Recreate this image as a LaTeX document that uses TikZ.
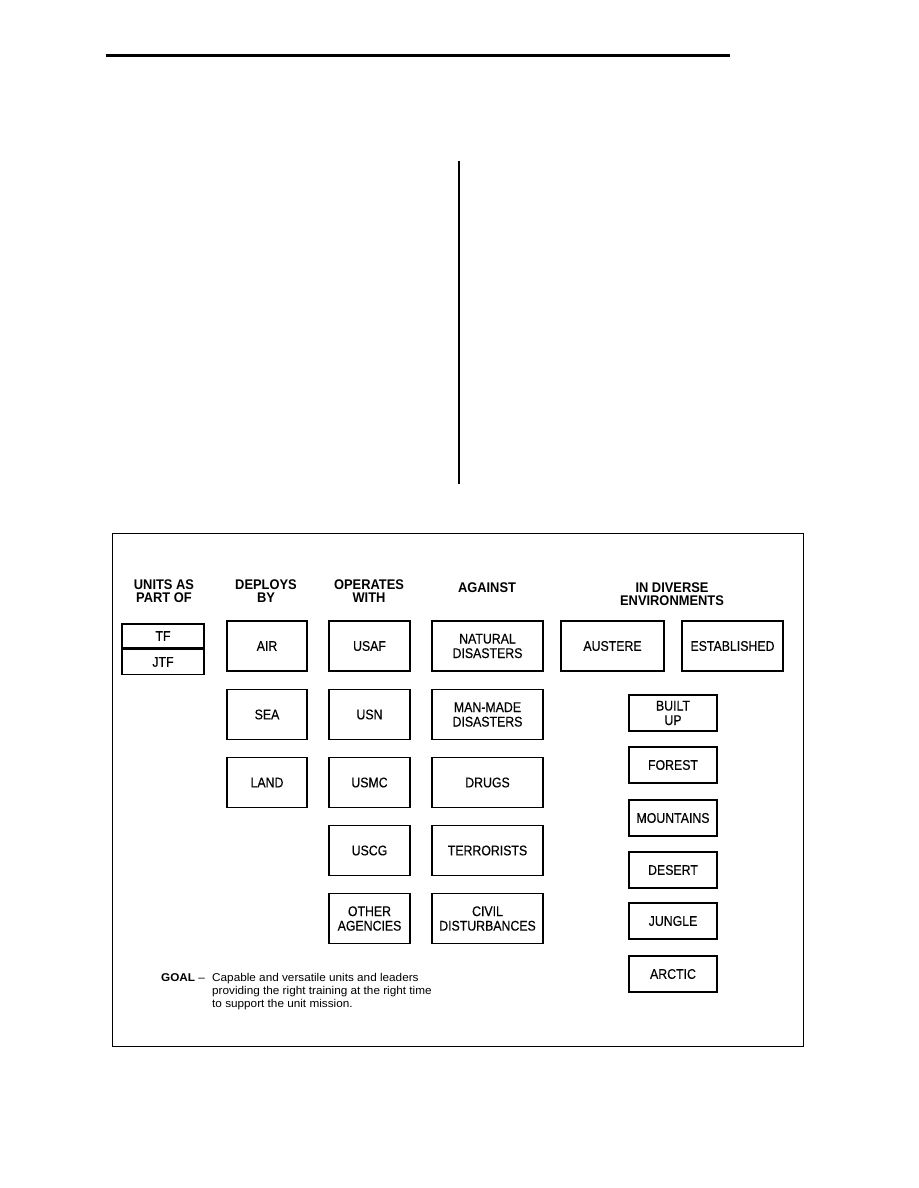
\documentclass[tikz,border=0pt]{standalone}
\usepackage{fontspec}
\setmainfont{Liberation Sans}
\newfontfamily\boxfont[FakeStretch=0.88,FakeBold=0.4]{Liberation Sans}
\newfontfamily\hdrfont[FakeStretch=0.92]{Liberation Sans}
\newfontfamily\goalfont[FakeStretch=1.04]{Liberation Sans}
\begin{document}
\begin{tikzpicture}[x=1pt,y=-1pt,
  box/.style={draw, line width=1.5pt, inner sep=0pt, align=center,
    font=\boxfont\fontsize{14}{14.5}\selectfont},
  hdr/.style={inner sep=0pt, align=center, font=\hdrfont\bfseries\fontsize{14}{13}\selectfont},
  goaltext/.style={inner sep=0pt, anchor=base west, font=\goalfont\fontsize{11.3}{13}\selectfont}]
\useasboundingbox (0,0) rectangle (918,1188);
% top rule and vertical rule
\coordinate (rl) at (106,56); \coordinate (rr) at (730,56);
\draw[line width=3pt] (rl) -- (rr);
\coordinate (vt) at (459,161); \coordinate (vb) at (459,484);
\draw[line width=2pt] (vt) -- (vb);
% frame
\node[draw, line width=1.3pt, minimum width=691pt, minimum height=513pt, inner sep=0pt, anchor=north west] (frame) at (112,533) {};
% headers
\node[hdr] (h1) at (164,591) {UNITS AS\\PART OF};
\node[hdr] (h2) at (266,591) {DEPLOYS\\BY};
\node[hdr] (h3) at (369,591) {OPERATES\\WITH};
\node[hdr] (h4) at (487,588) {AGAINST};
\node[hdr] (h5) at (672,594) {IN DIVERSE\\ENVIRONMENTS};
% units
\node[box, minimum width=82pt, minimum height=24pt] (tf) at (163,636) {TF};
\node[box, minimum width=82pt, minimum height=25pt, anchor=north] (jtf) at (tf.south) {JTF};
% deploys
\node[box, minimum width=80pt, minimum height=50pt] (air) at (267,646) {AIR};
\node[box, minimum width=80pt, minimum height=50pt] (sea) at (267,714.5) {SEA};
\node[box, minimum width=80pt, minimum height=50pt] (land) at (267,782.5) {LAND};
% operates
\node[box, minimum width=81pt, minimum height=50pt] (usaf) at (369.5,646) {USAF};
\node[box, minimum width=81pt, minimum height=50pt] (usn) at (369.5,714.5) {USN};
\node[box, minimum width=81pt, minimum height=50pt] (usmc) at (369.5,782.5) {USMC};
\node[box, minimum width=81pt, minimum height=50pt] (uscg) at (369.5,850.5) {USCG};
\node[box, minimum width=81pt, minimum height=50pt] (other) at (369.5,918.5) {OTHER\\AGENCIES};
% against
\node[box, minimum width=111pt, minimum height=50pt] (nat) at (487.5,646) {NATURAL\\DISASTERS};
\node[box, minimum width=111pt, minimum height=50pt] (man) at (487.5,714.5) {MAN-MADE\\DISASTERS};
\node[box, minimum width=111pt, minimum height=50pt] (drugs) at (487.5,782.5) {DRUGS};
\node[box, minimum width=111pt, minimum height=50pt] (terr) at (487.5,850.5) {TERRORISTS};
\node[box, minimum width=111pt, minimum height=50pt] (civil) at (487.5,918.5) {CIVIL\\DISTURBANCES};
% environments
\node[box, minimum width=103pt, minimum height=50pt] (aus) at (612.5,646) {AUSTERE};
\node[box, minimum width=101pt, minimum height=50pt] (est) at (732.5,646) {ESTABLISHED};
\node[box, minimum width=88pt, minimum height=36pt] (built) at (673,713) {BUILT\\UP};
\node[box, minimum width=88pt, minimum height=36pt] (forest) at (673,765) {FOREST};
\node[box, minimum width=88pt, minimum height=36pt] (mount) at (673,818) {MOUNTAINS};
\node[box, minimum width=88pt, minimum height=36pt] (desert) at (673,870) {DESERT};
\node[box, minimum width=88pt, minimum height=36pt] (jungle) at (673,921) {JUNGLE};
\node[box, minimum width=88pt, minimum height=36pt] (arctic) at (673,974) {ARCTIC};
% goal
\node[goaltext] (goalA) at (161,981) {\textbf{GOAL} –};
\node[goaltext] (goal1) at (212,981) {Capable and versatile units and leaders};
\node[goaltext] (goal2) at (212,994) {providing the right training at the right time};
\node[goaltext] (goal3) at (212,1007) {to support the unit mission.};
\end{tikzpicture}
\end{document}
